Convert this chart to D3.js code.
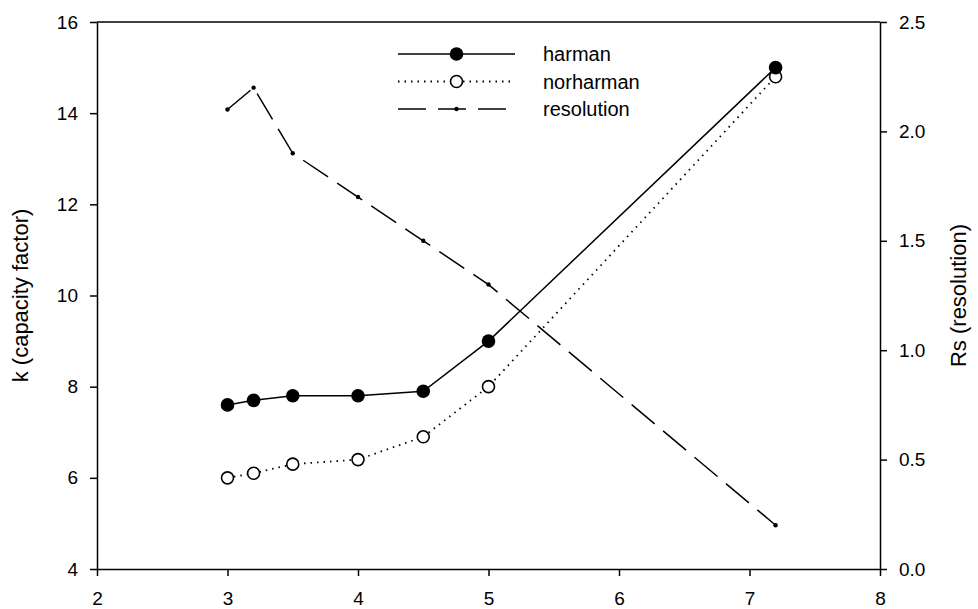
<!DOCTYPE html>
<html>
<head>
<meta charset="utf-8">
<script src="https://cdn.jsdelivr.net/npm/d3@7"></script>
<style>
  body { margin: 0; background: #fff; }
  svg text { font-family: Arial, "Liberation Sans", sans-serif; fill: #000; }
</style>
</head>
<body>
<div id="chart"></div>
<script>
// data
const xVals = [3, 3.2, 3.5, 4, 4.5, 5, 7.2];
const harman = [7.6, 7.7, 7.8, 7.8, 7.9, 9.0, 15.0];
const norharman = [6.0, 6.1, 6.3, 6.4, 6.9, 8.0, 14.8];
const resolution = [2.1, 2.2, 1.9, 1.7, 1.5, 1.3, 0.2];
const xTicks = [2, 3, 4, 5, 6, 7, 8];
const kTicks = [4, 6, 8, 10, 12, 14, 16];
const rsTicks = [0, 0.5, 1.0, 1.5, 2.0, 2.5];

const width = 978, height = 609;
const margin = {top: 22, right: 98, bottom: 40, left: 97};

const svg = d3.select("#chart")
  .append("svg")
  .attr("width", width)
  .attr("height", height);

const x = d3.scaleLinear().domain([2, 8]).range([margin.left, width - margin.right]);
const yK = d3.scaleLinear().domain([4, 16]).range([height - margin.bottom, margin.top]);
const yRs = d3.scaleLinear().domain([0, 2.5]).range([height - margin.bottom, margin.top]);

// frame top line
svg.append("line")
  .attr("x1", x(2)).attr("x2", x(8))
  .attr("y1", yK(16)).attr("y2", yK(16))
  .attr("stroke", "#000").attr("stroke-width", 1.5);

function styleAxis(g) {
  g.select(".domain").attr("stroke", "#000").attr("stroke-width", 1.5);
  g.selectAll(".tick line").attr("stroke", "#000").attr("stroke-width", 1.5);
  g.selectAll(".tick text").attr("font-size", 19).attr("font-family", "Arial, 'Liberation Sans', sans-serif");
}

svg.append("g")
  .attr("transform", `translate(0,${yK(4)})`)
  .call(d3.axisBottom(x).tickValues(xTicks).tickFormat(d3.format("d")).tickSize(7).tickPadding(16).tickSizeOuter(0))
  .call(styleAxis);

svg.append("g")
  .attr("transform", `translate(${x(2)},0)`)
  .call(d3.axisLeft(yK).tickValues(kTicks).tickFormat(d3.format("d")).tickSize(7).tickPadding(12).tickSizeOuter(0))
  .call(styleAxis);

svg.append("g")
  .attr("transform", `translate(${x(8)},0)`)
  .call(d3.axisRight(yRs).tickValues(rsTicks).tickFormat(d3.format(".1f")).tickSize(7).tickPadding(12).tickSizeOuter(0))
  .call(styleAxis);

// axis titles
const midY = (yK(4) + yK(16)) / 2;
svg.append("text")
  .attr("transform", `translate(28,${midY}) rotate(-90)`)
  .attr("text-anchor", "middle")
  .attr("font-size", 22)
  .text("k (capacity factor)");

svg.append("text")
  .attr("transform", `translate(966,${midY}) rotate(-90)`)
  .attr("text-anchor", "middle")
  .attr("font-size", 22)
  .text("Rs (resolution)");

const pts = (ys) => xVals.map((d, i) => [d, ys[i]]);

// resolution (right axis)
const lineRs = d3.line().x(d => x(d[0])).y(d => yRs(d[1]));
svg.append("path")
  .attr("d", lineRs(pts(resolution)))
  .attr("fill", "none").attr("stroke", "#000").attr("stroke-width", 1.5)
  .attr("stroke-dasharray", "30,11");
svg.selectAll(".rsPt")
  .data(pts(resolution))
  .enter().append("circle")
  .attr("cx", d => x(d[0])).attr("cy", d => yRs(d[1]))
  .attr("r", 2.2).attr("fill", "#000");

// norharman
const lineK = d3.line().x(d => x(d[0])).y(d => yK(d[1]));
svg.append("path")
  .attr("d", lineK(pts(norharman)))
  .attr("fill", "none").attr("stroke", "#000").attr("stroke-width", 1.8)
  .attr("stroke-dasharray", "1.5,5");
svg.selectAll(".norPt")
  .data(pts(norharman))
  .enter().append("circle")
  .attr("cx", d => x(d[0])).attr("cy", d => yK(d[1]))
  .attr("r", 6).attr("fill", "#fff").attr("stroke", "#000").attr("stroke-width", 1.6);

// harman
svg.append("path")
  .attr("d", lineK(pts(harman)))
  .attr("fill", "none").attr("stroke", "#000").attr("stroke-width", 1.5);
svg.selectAll(".harPt")
  .data(pts(harman))
  .enter().append("circle")
  .attr("cx", d => x(d[0])).attr("cy", d => yK(d[1]))
  .attr("r", 6.8).attr("fill", "#000");

// legend
const legend = [
  {name: "harman", dash: null, width: 1.5, marker: "filled"},
  {name: "norharman", dash: "1.5,5", width: 1.8, marker: "open"},
  {name: "resolution", dash: "28,12", width: 1.5, marker: "dot"}
];
const lg = svg.append("g");
legend.forEach((l, i) => {
  const yy = 54 + i * 27.5;
  lg.append("line")
    .attr("x1", 398).attr("x2", 515).attr("y1", yy).attr("y2", yy)
    .attr("stroke", "#000").attr("stroke-width", l.width)
    .attr("stroke-dasharray", l.dash);
  if (l.marker === "filled") {
    lg.append("circle").attr("cx", 456.5).attr("cy", yy).attr("r", 6.8).attr("fill", "#000");
  } else if (l.marker === "open") {
    lg.append("circle").attr("cx", 456.5).attr("cy", yy).attr("r", 6)
      .attr("fill", "#fff").attr("stroke", "#000").attr("stroke-width", 1.6);
  } else {
    lg.append("circle").attr("cx", 456.5).attr("cy", yy).attr("r", 2.2).attr("fill", "#000");
  }
  lg.append("text")
    .attr("x", 543).attr("y", yy).attr("dy", "0.35em")
    .attr("font-size", 20)
    .text(l.name);
});
</script>
</body>
</html>
